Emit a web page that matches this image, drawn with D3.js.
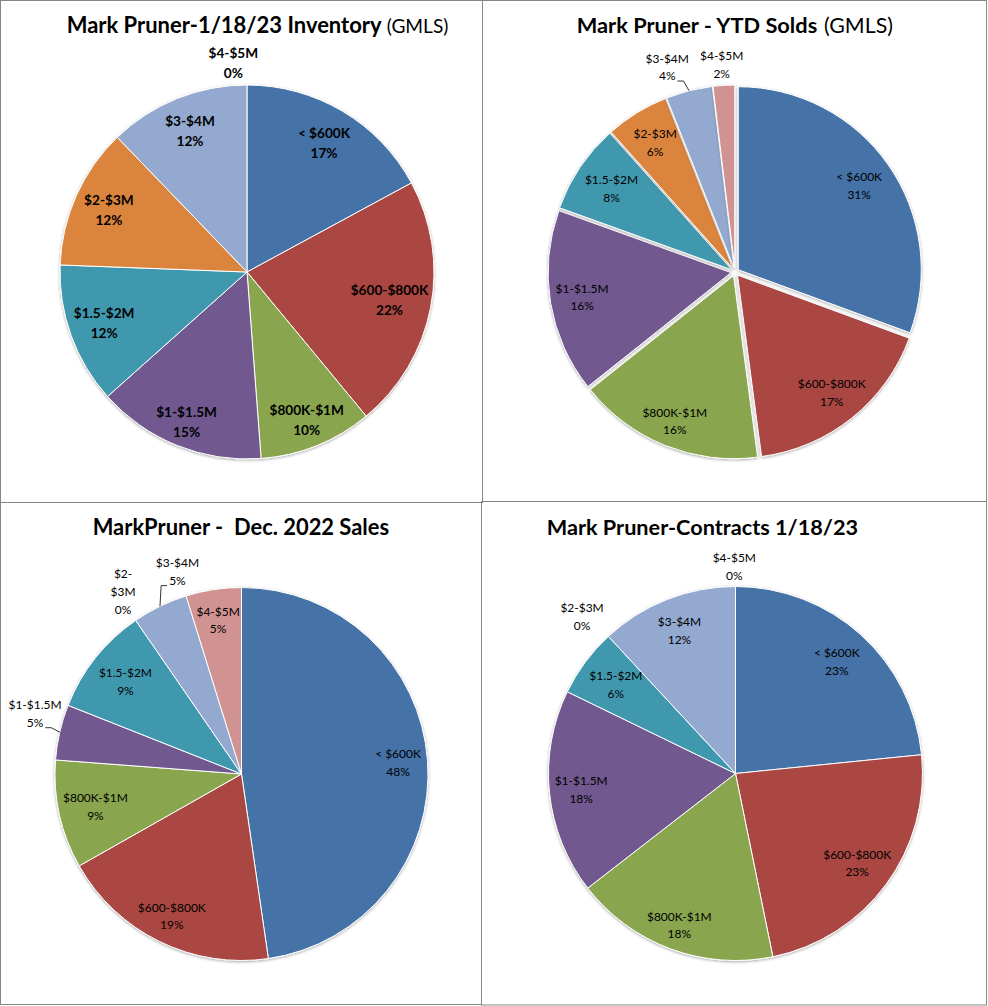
<!DOCTYPE html>
<html>
<head>
<meta charset="utf-8">
<script src="https://cdn.jsdelivr.net/npm/d3@7"></script>
<style>
	body { margin: 0; background: #fff; }
	svg { display: block; font-family: Lato, 'Open Sans', sans-serif; }
</style>
</head>
<body>
<script>
/* Data. */
const categories = ['< $600K', '$600-$800K', '$800K-$1M', '$1-$1.5M', '$1.5-$2M', '$2-$3M', '$3-$4M', '$4-$5M'];
const sliceColors = ['#4572A7', '#AA4643', '#89A54E', '#71588F', '#4198AF', '#DB843D', '#93A9CF', '#D19392'];

// share of each price band, in percent
const inventoryShare = [17.1, 21.9, 9.8, 14.6, 12.2, 12.2, 12.2, 0];
const ytdSoldShare = [30.6, 17.3, 16.4, 16.2, 7.9, 5.6, 4.1, 1.9];
const decSalesShare = [47.7, 19.1, 9.4, 4.8, 9.4, 0, 4.8, 4.8];
const contractShare = [23.4, 23.4, 17.7, 17.7, 5.9, 0, 11.9, 0];

const inventoryTitle = ['Mark Pruner-1/18/23 Inventory', '(GMLS)'];
const ytdSoldTitle = ['Mark Pruner - YTD Solds', '(GMLS)'];
const decSalesTitle = ['MarkPruner -  Dec. 2022 Sales', ''];
const contractTitle = ['Mark Pruner-Contracts 1/18/23', ''];

/* Layout of the four panels. */
const charts = [
	{
		title: inventoryTitle, values: inventoryShare,
		panel: [0.5, 0.5, 482, 502], titleX: 66.7, titleY: 32.5, titleWidth: [315, 61.7], tailX: 386.7,
		cx: 247, cy: 272, r: 187, explode: 0, bold: true,
		outside: { 7: { dx: -13.7, dy: -1 } }
	},
	{
		title: ytdSoldTitle, values: ytdSoldShare,
		panel: [482.5, 0.5, 504, 501], titleX: 576.7, titleY: 33, titleWidth: [240.6, 69], tailX: 824,
		cx: 735, cy: 272, r: 183, explode: 4, bold: false,
		outside: { 6: { dx: -16.7, dy: -3.2, leader: true }, 7: { dx: -0.9, dy: 0.3 } }
	},
	{
		title: decSalesTitle, values: decSalesShare,
		panel: [0.5, 502.5, 481, 502], titleX: 92.7, titleY: 534.5, titleWidth: [296.6, 0],
		cx: 241.5, cy: 774, r: 186.5, explode: 0, bold: false,
		outside: {
			3: { dx: -4.3, dy: -13.6, leader: true },
			5: { dx: -0.7, dy: -11.5, lines: ['$2-', '$3M'] },
			6: { dx: 26.6, dy: -15.6, leader: true }
		}
	},
	{
		title: contractTitle, values: contractShare,
		panel: [481.5, 501.5, 505, 503.5], titleX: 546.7, titleY: 534.5, titleWidth: [311.6, 0],
		cx: 735.5, cy: 773.5, r: 187, explode: 0, bold: false,
		outside: { 5: { dx: -12, dy: -4.2 }, 7: { dx: -1.2, dy: 1.2 } }
	}
];

let svg;

/**
 * Returns a font size that makes the reference text the given width.
 */
function fitFontSize(text, weight, target) {
	let probe = svg.append('text')
		.attr('font-size', 20)
		.attr('font-weight', weight)
		.style('white-space', 'pre')
		.text(text);
	let length = probe.node().getComputedTextLength();
	probe.remove();
	return 20 * target / length;
}

/**
 * Adds the drop shadow used under the slices.
 */
function createShadow() {
	let filter = svg.append('defs').append('filter')
		.attr('id', 'shadow')
		.attr('x', '-10%').attr('y', '-10%')
		.attr('width', '120%').attr('height', '120%');
	filter.append('feGaussianBlur')
		.attr('in', 'SourceAlpha')
		.attr('stdDeviation', 1.4);
	filter.append('feOffset')
		.attr('dx', 0).attr('dy', 0.8);
	filter.append('feComponentTransfer')
		.append('feFuncA').attr('type', 'linear').attr('slope', 0.35);
	let merge = filter.append('feMerge');
	merge.append('feMergeNode');
	merge.append('feMergeNode').attr('in', 'SourceGraphic');
}

/**
 * Draws one pie chart with its frame, title and labels.
 */
function createPieChart(chart, fonts) {
	/* Frame. */
	svg.append('rect')
		.attr('x', chart.panel[0])
		.attr('y', chart.panel[1])
		.attr('width', chart.panel[2])
		.attr('height', chart.panel[3])
		.attr('fill', 'none')
		.attr('stroke', '#868686');

	/* Title: bold part, then the regular "(GMLS)" tail. */
	svg.append('text')
		.attr('x', chart.titleX)
		.attr('y', chart.titleY)
		.attr('font-size', fitFontSize(chart.title[0], 'bold', chart.titleWidth[0]))
		.attr('font-weight', 'bold')
		.attr('fill', '#000')
		.style('white-space', 'pre')
		.text(chart.title[0]);
	if (chart.title[1]) {
		svg.append('text')
			.attr('x', chart.tailX)
			.attr('y', chart.titleY)
			.attr('font-size', fitFontSize(chart.title[1], 'normal', chart.titleWidth[1]))
			.attr('fill', '#000')
			.text(chart.title[1]);
	}

	/* Slices. */
	let total = d3.sum(chart.values);
	let arcs = d3.pie().sort(null).value(function(d) { return d; })(chart.values);
	let arc = d3.arc().innerRadius(0).outerRadius(chart.r);
	let midAngle = function(d) { return (d.startAngle + d.endAngle) / 2; };

	let pie = svg.append('g')
		.attr('transform', 'translate(' + chart.cx + ',' + chart.cy + ')');
	let sliceGroup = pie.append('g');
	if (!chart.explode) {
		sliceGroup.attr('filter', 'url(#shadow)');
	}
	sliceGroup.selectAll('path')
			.data(arcs.filter(function(d) { return d.value > 0; }))
		.enter().append('path')
			.attr('d', arc)
			.attr('fill', function(d) { return sliceColors[d.index]; })
			.attr('stroke', '#fff')
			.attr('stroke-width', 1)
			.attr('stroke-linejoin', 'round')
			.attr('filter', chart.explode ? 'url(#shadow)' : null)
			.attr('transform', function(d) {
				let a = midAngle(d);
				return 'translate(' + chart.explode * Math.sin(a) + ',' + (-chart.explode * Math.cos(a)) + ')';
			});

	/* Labels. */
	let font = chart.bold ? fonts.bold : fonts.regular;
	let lineHeight = chart.bold ? 20 : 17.7;
	let outerR = chart.r + chart.explode;

	for (let d of arcs) {
		let option = chart.outside[d.index];
		let lines = (option && option.lines ? option.lines : [categories[d.index]]).slice();
		lines.push(Math.round(d.value / total * 100) + '%');

		let label = pie.append('text')
			.attr('font-size', font)
			.attr('font-weight', chart.bold ? 'bold' : 'normal')
			.attr('fill', '#000')
			.attr('text-anchor', 'middle');
		let spans = lines.map(function(line) {
			return label.append('tspan').text(line);
		});
		let widths = spans.map(function(span) { return span.node().getComputedTextLength(); });
		let w = d3.max(widths);

		let a = midAngle(d);
		let sin = Math.sin(a);
		let cos = Math.cos(a);
		let dist;
		if (option) {
			dist = outerR + 21;
		} else {
			dist = outerR - 10 - 0.4 * w * Math.abs(sin) - (cos > 0 ? 18.5 : 6.8) * Math.abs(cos);
		}
		let bx = dist * sin + (option ? option.dx : 0);
		let by = -dist * cos + (option ? option.dy : 0);

		spans.forEach(function(span, i) {
			let lineY = by + (i - (lines.length - 1) / 2) * lineHeight;
			span.attr('x', bx).attr('y', lineY + 0.36 * font);
		});

		/* Leader line from the percent line to the slice rim. */
		if (option && option.leader) {
			let rimX = outerR * sin;
			let rimY = -outerR * cos;
			let lastY = by + (lines.length - 1) / 2 * lineHeight + 5;
			let side = rimX > bx ? 1 : -1;
			let startX = bx + side * (widths[widths.length - 1] / 2 + 2);
			pie.append('path')
				.attr('d', d3.line()([[startX, lastY], [startX + side * 6, lastY], [rimX, rimY]]))
				.attr('fill', 'none')
				.attr('stroke', '#000')
				.attr('stroke-width', 0.8);
		}
	}
}

/**
 * Runs the program.
 */
function main() {
	svg = d3.select('body').append('svg')
		.attr('width', 988)
		.attr('height', 1006);
	createShadow();

	let fonts = {
		regular: fitFontSize('$600-$800K', 'normal', 68),
		bold: fitFontSize('$600-$800K', 'bold', 77.7)
	};

	for (let chart of charts) {
		createPieChart(chart, fonts);
	}
}

main();
</script>
</body>
</html>
